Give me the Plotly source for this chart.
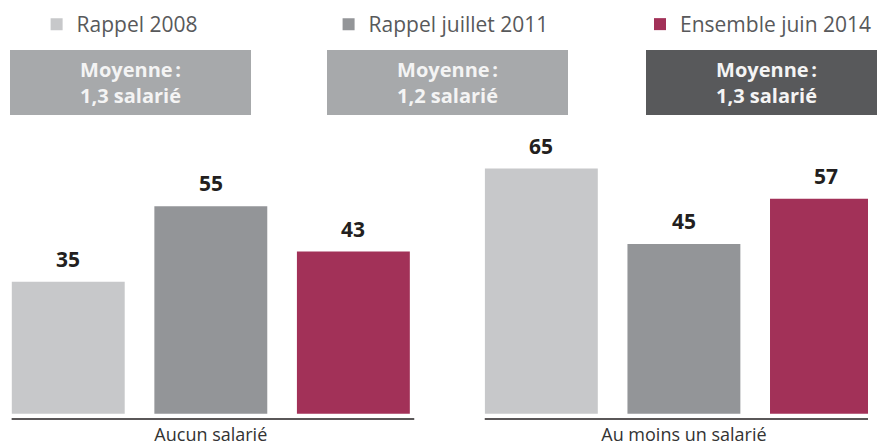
import plotly.graph_objects as go

# ---- data ----
categories = ["Aucun salarié", "Au moins un salarié"]
series_names = ["Rappel 2008", "Rappel juillet 2011", "Ensemble juin 2014"]
vals_2008 = [35, 65]
vals_2011 = [55, 45]
vals_2014 = [43, 57]
moyennes = ["1,3", "1,2", "1,3"]

series_values = [vals_2008, vals_2011, vals_2014]
bar_colors = ["#c7c8ca", "#939598", "#a23158"]
box_colors = ["#a7a9ab", "#a7a9ab", "#58595b"]
legend_ids = ["legend", "legend2", "legend3"]

FONT = "Open Sans"
W, H = 877, 446
BARGAP = 0.096
BARGROUPGAP = 0.208
n_series = len(series_names)
slot = (1 - BARGAP) / n_series

fig = go.Figure()
for j, (name, vals, col, lid) in enumerate(zip(series_names, series_values, bar_colors, legend_ids)):
    fig.add_trace(go.Bar(
        x=categories, y=vals, name=name, marker=dict(color=col, line=dict(width=0)),
        legend=lid, hoverinfo="skip",
    ))
    for i, v in enumerate(vals):
        fig.add_annotation(
            xref="x", yref="y", x=i + (j - (n_series - 1) / 2) * slot, y=v,
            yshift=23, yanchor="middle", xanchor="center", showarrow=False,
            text=f"<b>{v}</b>", font=dict(family=FONT, size=21, color="#231f20"),
        )

# axis base lines under each group
for idx, c in enumerate(categories):
    fig.add_shape(type="line", xref="x", yref="paper", x0=idx - 0.421, x1=idx + 0.43,
                  y0=0, y1=0, line=dict(color="#231f20", width=1.5))

# "Moyenne" boxes
box_cx = [131.5, 452, 774]
for m, bc, cx in zip(moyennes, box_colors, box_cx):
    fig.add_annotation(
        xref="paper", yref="paper", x=cx / W, y=1 - 82.5 / 421, xanchor="center", yanchor="middle",
        text=f"<b>Moyenne\u202f:</b><br><b>{m} salarié</b>", showarrow=False,
        width=241, height=65, bgcolor=bc, borderpad=0, borderwidth=0,
        font=dict(family=FONT, size=20, color="#f4f4f4"), align="center",
    )

px_per_unit = 3.79
plot_h = 421
zero_px = 415.7
y_min = -(plot_h - zero_px) / px_per_unit
y_max = zero_px / px_per_unit

leg_x = [37, 332, 647]
layout_legends = {}
for lid, lx in zip(legend_ids, leg_x):
    layout_legends[lid] = dict(
        x=lx / W, y=1 - 4 / 421, xanchor="left", yanchor="top", orientation="h",
        font=dict(family=FONT, size=21, color="#58595b"), bgcolor="rgba(0,0,0,0)",
        itemclick=False, itemdoubleclick=False,
    )

fig.update_layout(
    width=W, height=H, paper_bgcolor="white", plot_bgcolor="white",
    margin=dict(l=0, r=0, t=0, b=25),
    barmode="group", bargap=BARGAP, bargroupgap=BARGROUPGAP,
    showlegend=True,
    xaxis=dict(range=[-213 / 478, (877 - 213) / 478], showgrid=False, showline=False,
               zeroline=False, ticks="", tickfont=dict(family=FONT, size=18, color="#333333"),
               ticklabelstandoff=3, fixedrange=True),
    yaxis=dict(range=[y_min, y_max], visible=False, fixedrange=True),
    **layout_legends,
)

fig.write_html("out.html", config={"displayModeBar": False},
               post_script="document.body.style.margin='0px';")
